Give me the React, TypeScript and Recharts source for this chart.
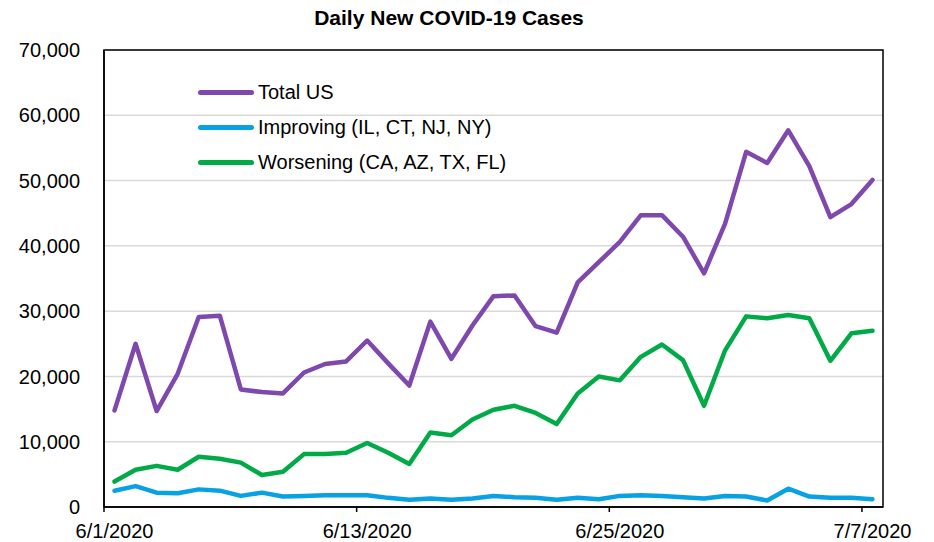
import React from 'react';
import { LineChart, Line, XAxis, YAxis, CartesianGrid, ReferenceArea } from 'recharts';

// one value per day, 6/1/2020 .. 7/7/2020
const dates = [
  '6/1/2020', '6/2/2020', '6/3/2020', '6/4/2020', '6/5/2020', '6/6/2020', '6/7/2020', '6/8/2020',
  '6/9/2020', '6/10/2020', '6/11/2020', '6/12/2020', '6/13/2020', '6/14/2020', '6/15/2020', '6/16/2020',
  '6/17/2020', '6/18/2020', '6/19/2020', '6/20/2020', '6/21/2020', '6/22/2020', '6/23/2020', '6/24/2020',
  '6/25/2020', '6/26/2020', '6/27/2020', '6/28/2020', '6/29/2020', '6/30/2020', '7/1/2020', '7/2/2020',
  '7/3/2020', '7/4/2020', '7/5/2020', '7/6/2020', '7/7/2020',
];

const totalUS = [
  14800, 25000, 14700, 20400, 29100, 29300, 18000, 17600, 17400, 20600, 21900, 22300, 25500,
  22000, 18600, 28400, 22700, 27800, 32300, 32400, 27700, 26700, 34400, 37500, 40600, 44700,
  44700, 41400, 35800, 43400, 54400, 52700, 57700, 52200, 44400, 46400, 50100,
];

const improving = [
  2500, 3200, 2200, 2100, 2700, 2500, 1700, 2200, 1600, 1700, 1800, 1800, 1800,
  1400, 1100, 1300, 1100, 1300, 1700, 1500, 1400, 1100, 1400, 1200, 1700, 1800,
  1700, 1500, 1300, 1700, 1600, 1000, 2800, 1600, 1400, 1400, 1200,
];

const worsening = [
  3900, 5700, 6300, 5700, 7700, 7400, 6800, 4900, 5400, 8100, 8100, 8300, 9800,
  8300, 6600, 11400, 11000, 13400, 14900, 15500, 14400, 12700, 17400, 20000, 19400, 23000,
  24900, 22500, 15500, 24000, 29200, 28900, 29400, 28900, 22400, 26600, 27000,
];

const yTicks = [0, 10000, 20000, 30000, 40000, 50000, 60000, 70000];
const xTicks = [0, 12, 24, 36];

const series = [
  { key: 'total', name: 'Total US', color: '#7F48AD' },
  { key: 'improving', name: 'Improving (IL, CT, NJ, NY)', color: '#08A2E4' },
  { key: 'worsening', name: 'Worsening (CA, AZ, TX, FL)', color: '#00AA47' },
];

// points sit in the middle of each day on the date axis
const data = dates.map((d, i) => ({
  x: i + 0.5,
  total: totalUS[i],
  improving: improving[i],
  worsening: worsening[i],
}));

const FONT = 'Arial, "Liberation Sans", sans-serif';
const DAY_PX = 779 / 37;

const DateTick = (props: any) => {
  const { x, y, payload } = props;
  return (
    <text x={x + DAY_PX / 2} y={y + 24} textAnchor="middle" fontSize={20} fontFamily={FONT} fill="#000">
      {dates[payload.value]}
    </text>
  );
};

// legend sits inside the plot; drawn as an overlay so it doesn't eat plot space
const LegendBox = () => (
  <div style={{ position: 'absolute', left: 198, top: 75, fontFamily: FONT, fontSize: 20, color: '#000' }}>
    {series.map((s) => (
      <div key={s.key} style={{ display: 'flex', alignItems: 'center', height: 35 }}>
        <div style={{ width: 56, height: 5, borderRadius: 3, background: s.color, marginRight: 4 }} />
        <span style={{ whiteSpace: 'nowrap' }}>{s.name}</span>
      </div>
    ))}
  </div>
);

export default function App() {
  return (
    <div style={{ position: 'absolute', left: 0, top: 0, width: 934, height: 542, background: '#fff' }}>
      <div
        style={{
          position: 'absolute', top: 6, left: 0, width: 898, textAlign: 'center',
          fontFamily: FONT, fontWeight: 'bold', fontSize: 21, color: '#000',
        }}
      >
        Daily New COVID-19 Cases
      </div>
      <LineChart width={934} height={542} data={data} margin={{ top: 50, right: 51, bottom: 0, left: 0 }}>
        <CartesianGrid vertical={false} stroke="#d9d9d9" strokeWidth={1.5} />
        <XAxis
          dataKey="x"
          type="number"
          domain={[0, 37]}
          ticks={xTicks}
          interval={0}
          height={35}
          tickSize={5}
          axisLine={{ stroke: '#000', strokeWidth: 1.5 }}
          tickLine={{ stroke: '#000', strokeWidth: 1.5 }}
          tick={<DateTick />}
        />
        <YAxis
          domain={[0, 70000]}
          ticks={yTicks}
          interval={0}
          width={104}
          tickLine={false}
          tickMargin={18}
          axisLine={{ stroke: '#000', strokeWidth: 1.5 }}
          tick={{ fontSize: 20, fontFamily: FONT, fill: '#000' }}
          tickFormatter={(v) => v.toLocaleString('en-US')}
        />
        <ReferenceArea x1={0} x2={37} y1={0} y2={70000} fill="none" stroke="#000" strokeWidth={1.5} />
        {series.map((s) => (
          <Line
            key={s.key}
            type="linear"
            dataKey={s.key}
            name={s.name}
            stroke={s.color}
            strokeWidth={4.5}
            strokeLinejoin="round"
            strokeLinecap="round"
            dot={false}
            activeDot={false}
            isAnimationActive={false}
          />
        ))}
      </LineChart>
      <LegendBox />
    </div>
  );
}
